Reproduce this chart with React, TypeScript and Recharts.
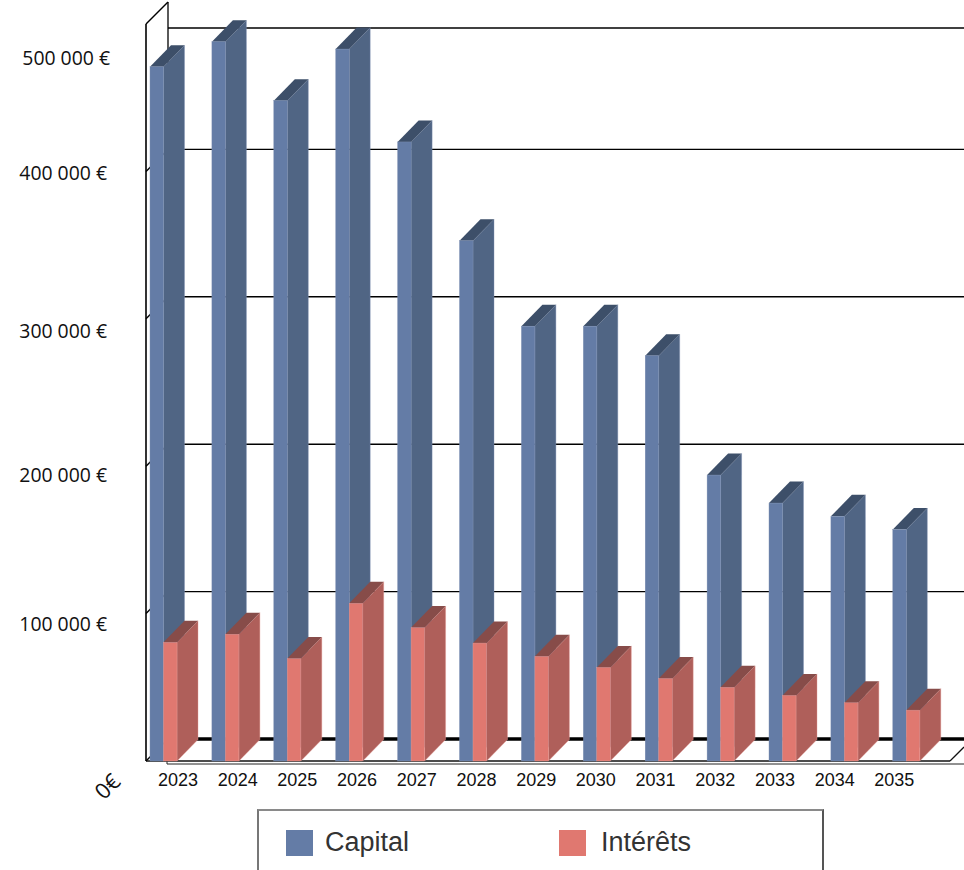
import React from "react";
import { BarChart, Bar, XAxis, YAxis, CartesianGrid, Legend } from "recharts";

const years = ["2023", "2024", "2025", "2026", "2027", "2028", "2029", "2030", "2031", "2032", "2033", "2034", "2035"];
const capital = [471000, 488000, 448000, 483000, 420000, 353000, 295000, 295000, 275000, 194000, 175000, 166000, 157000];
const interets = [80500, 86000, 69500, 107000, 90500, 80000, 71000, 63500, 56000, 50000, 44500, 39500, 34500];
const yTicks = [0, 100000, 200000, 300000, 400000, 500000];

const data = years.map((year, i) => ({ year, capital: capital[i], interets: interets[i] }));

const WIDTH = 964;
const HEIGHT = 870;
const PLOT_TOP = 24;
const PLOT_BOTTOM = 761;
const WALL_X = 146;
const DEPTH_X = 22;
const DEPTH_Y = 22;

// shaded faces for each series colour
const FACES: Record<string, { side: string; top: string; edge: string }> = {
    "#647ca6": { side: "#506584", top: "#3d4f69", edge: "#7d90b2" },
    "#e07870": { side: "#af5f5a", top: "#874c49", edge: "#e59a95" },
};

// the labels in the original do not sit exactly on their ticks
const LABEL_NUDGE: Record<number, number> = { 500000: 35, 400000: 3, 300000: 13, 200000: 10, 100000: 11 };

const formatEuro = (value: number) => `${String(value / 1000)} 000 €`;

const Box3D = (props: any) => {
    const { x, y, width, height, fill } = props;
    const faces = FACES[fill];
    const dx = 21;
    const dy = 21.5;
    const right = x + width;
    const bottom = y + height;
    return (
        <g>
            <polygon
                points={`${right},${y} ${right + dx},${y - dy} ${right + dx},${bottom - dy} ${right},${bottom}`}
                fill={faces.side}
                stroke={faces.edge}
                strokeWidth={0.4}
            />
            <polygon
                points={`${x},${y} ${x + dx},${y - dy} ${right + dx},${y - dy} ${right},${y}`}
                fill={faces.top}
            />
            <rect x={x} y={y} width={width} height={height} fill={fill} stroke={faces.edge} strokeWidth={0.4} />
        </g>
    );
};

// back wall line, wall tick and floor, all hung on the value axis ticks
const GridLine = (props: any) => {
    const { y1, index } = props;
    const backY = y1 - DEPTH_Y;
    const backX = WALL_X + DEPTH_X;
    const isFloor = index === 0;
    const isTop = index === yTicks.length - 1;

    return (
        <g key={`grid-${index}`}>
            <line x1={WALL_X} y1={y1} x2={backX} y2={backY} stroke="#000" strokeWidth={1.4} />
            <line
                x1={backX}
                y1={isTop ? y1 + 4 : backY}
                x2={WIDTH}
                y2={isTop ? y1 + 4 : backY}
                stroke="#000"
                strokeWidth={isFloor ? 3.5 : 1.4}
            />
            {isTop && (
                <>
                    <line x1={WALL_X} y1={PLOT_TOP} x2={WALL_X} y2={PLOT_BOTTOM} stroke="#000" strokeWidth={1.6} />
                    <line x1={backX} y1={backY} x2={backX} y2={PLOT_BOTTOM - DEPTH_Y} stroke="#000" strokeWidth={1.3} />
                </>
            )}
            {isFloor && (
                <>
                    <line x1={WALL_X} y1={y1} x2={950} y2={y1} stroke="#111" strokeWidth={1.6} />
                    <line x1={950} y1={y1} x2={964} y2={y1 - 14} stroke="#111" strokeWidth={1.3} />
                    <line x1={167} y1={y1 + 3} x2={WIDTH} y2={y1 + 3} stroke="#222" strokeWidth={1} />
                    <line x1={167} y1={y1} x2={167} y2={y1 + 3} stroke="#222" strokeWidth={1} />
                </>
            )}
        </g>
    );
};

const YearTick = (props: any) => {
    const { x, y, payload, index } = props;
    // labels run a little tighter than the bars
    const shift = 14 - 2.2 * index;
    return (
        <text x={x + shift} y={y} dy={25} textAnchor="middle" fontFamily="Liberation Sans" fontSize={18} fill="#111">
            {payload.value}
        </text>
    );
};

const EuroTick = (props: any) => {
    const { x, y, payload } = props;
    if (payload.value === 0) {
        return (
            <text
                x={x - 25}
                y={y + 33}
                textAnchor="middle"
                fontFamily="Open Sans"
                fontSize={22}
                fill="#111"
                transform={`rotate(-45 ${x - 25} ${y + 26})`}
            >
                0€
            </text>
        );
    }
    return (
        <text
            x={payload.value === 500000 ? x - 23 : x - 26}
            y={y + LABEL_NUDGE[payload.value] + 6}
            textAnchor="end"
            fontFamily="Open Sans"
            fontSize={19.4}
            fill="#111"
        >
            {formatEuro(payload.value)}
        </text>
    );
};

const LegendBox = (props: any) => {
    const { payload } = props;
    const items = payload || [];
    return (
        <div
            style={{
                position: "relative",
                width: 567,
                height: 61,
                boxSizing: "border-box",
                borderTop: "2px solid #8a8a8a",
                borderLeft: "2px solid #777",
                borderRight: "2px solid #555",
                background: "#fff",
            }}
        >
            {items.map((item: any, i: number) => (
                <div key={item.value}>
                    <div
                        style={{
                            position: "absolute",
                            left: 27 + i * 273,
                            top: 19,
                            width: 27,
                            height: 26,
                            background: item.color,
                        }}
                    />
                    <div
                        style={{
                            position: "absolute",
                            left: 66 + i * 276,
                            top: 13,
                            fontFamily: "Liberation Sans",
                            fontSize: 27,
                            lineHeight: "36px",
                            color: "#333",
                        }}
                    >
                        {item.value}
                    </div>
                </div>
            ))}
        </div>
    );
};

export default function App() {
    return (
        <div style={{ position: "absolute", left: 0, top: 0, width: WIDTH, height: HEIGHT, overflow: "hidden" }}>
            <BarChart
                width={WIDTH}
                height={HEIGHT}
                data={data}
                margin={{ top: PLOT_TOP, right: 26.3, bottom: 0, left: 0 }}
                barGap={0}
            >
                <CartesianGrid vertical={false} horizontal={(p: any) => <GridLine {...p} />} />
                <XAxis
                    dataKey="year"
                    height={HEIGHT - PLOT_BOTTOM}
                    axisLine={false}
                    tickLine={false}
                    tickSize={0}
                    tickMargin={0}
                    interval={0}
                    tick={<YearTick />}
                />
                <YAxis
                    width={133}
                    domain={[0, 500000]}
                    ticks={yTicks}
                    axisLine={false}
                    tickLine={false}
                    tickSize={0}
                    tickMargin={0}
                    tick={<EuroTick />}
                />
                <Bar dataKey="capital" name="Capital" fill="#647ca6" barSize={13.5} isAnimationActive={false} shape={<Box3D />} />
                <Bar dataKey="interets" name="Intérêts" fill="#e07870" barSize={13.5} isAnimationActive={false} shape={<Box3D />} />
                <Legend
                    layout="horizontal"
                    verticalAlign="middle"
                    align="center"
                    content={<LegendBox />}
                    wrapperStyle={{ left: 257, top: 809, width: 567, height: 61 }}
                />
            </BarChart>
        </div>
    );
}
